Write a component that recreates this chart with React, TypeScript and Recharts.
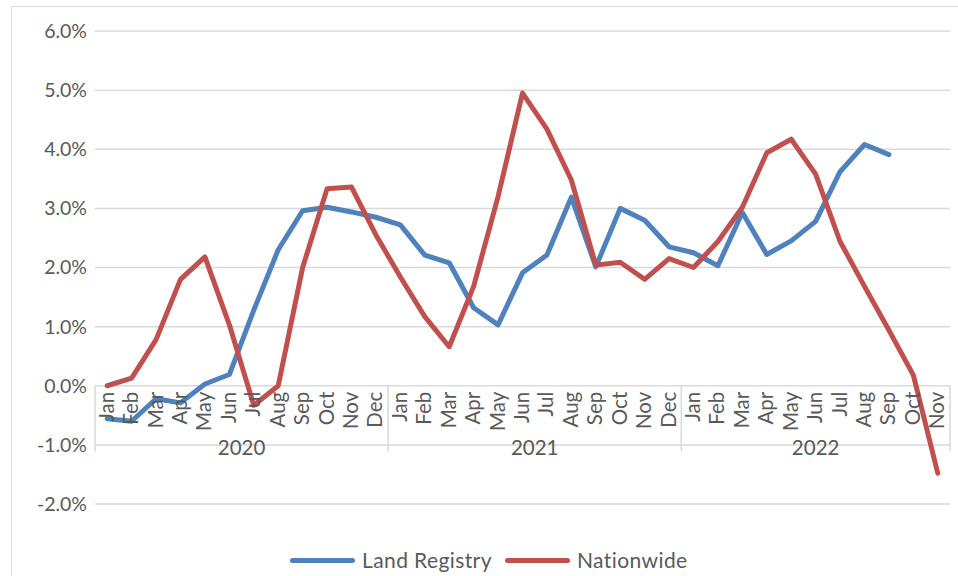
import {
	LineChart,
	Line,
	XAxis,
	YAxis,
	CartesianGrid,
	ReferenceDot,
	ReferenceLine,
} from "recharts";

const monthNames = ["Jan", "Feb", "Mar", "Apr", "May", "Jun", "Jul", "Aug", "Sep", "Oct", "Nov", "Dec"];
const years = ["2020", "2021", "2022"];
const monthsIn2022 = 11;

// annual % change, Jan 2020 onwards
const landRegistry = [
	-0.56, -0.6, -0.22, -0.29, 0.03, 0.19, 1.28, 2.3, 2.96, 3.02, 2.94, 2.85,
	2.72, 2.21, 2.08, 1.32, 1.03, 1.91, 2.21, 3.19, 2.01, 3.0, 2.8, 2.35,
	2.25, 2.03, 2.93, 2.22, 2.45, 2.78, 3.62, 4.08, 3.91,
];
const nationwide = [
	0.0, 0.13, 0.78, 1.8, 2.18, 1.03, -0.33, 0.0, 2.0, 3.33, 3.36, 2.55,
	1.84, 1.17, 0.66, 1.68, 3.2, 4.95, 4.34, 3.48, 2.04, 2.09, 1.8, 2.15,
	2.0, 2.44, 3.02, 3.94, 4.17, 3.58, 2.44, 1.68, 0.94, 0.18, -1.48,
];
const yTicks = [-2, -1, 0, 1, 2, 3, 4, 5, 6];

const BLUE = "#4F81BD";
const RED = "#C0504D";
const TEXT = "#595959";
const GRID = "#D9D9D9";
const FONT = "Lato, 'Open Sans', sans-serif";

const months = years.flatMap((y, yi) =>
	monthNames.slice(0, yi === years.length - 1 ? monthsIn2022 : 12).map((m) => ({ m, y })),
);

const data = months.map((c, i) => ({
	x: i + 0.5,
	month: c.m,
	lr: landRegistry[i] ?? null,
	nw: nationwide[i] ?? null,
}));

// year groups: start / end index along the month axis
const groups = years.map((y) => {
	const start = months.findIndex((c) => c.y === y);
	const count = months.filter((c) => c.y === y).length;
	return { year: y, start, end: start + count };
});
const boundaries = [0, ...groups.map((g) => g.end)];

const monthLabel = (text: string) => (props: any) => {
	const vb = props.viewBox || {};
	const cx = vb.x + (vb.width || 0) / 2;
	const cy = vb.y + (vb.height || 0) / 2;
	return (
		<text
			x={cx + 6.5}
			y={cy + 6}
			transform={`rotate(-90, ${cx + 6.5}, ${cy + 6})`}
			textAnchor="end"
			fill={TEXT}
			fontSize={20.5}
			fontFamily={FONT}
		>
			{text}
		</text>
	);
};

const yearLabel = (text: string) => (props: any) => {
	const vb = props.viewBox || {};
	const cx = vb.x + (vb.width || 0) / 2;
	const cy = vb.y + (vb.height || 0) / 2;
	return (
		<text x={cx} y={cy + 10.5} textAnchor="middle" fill={TEXT} fontSize={20.5} fontFamily={FONT}>
			{text}
		</text>
	);
};

function LegendItem({ left, color, label }: { left: number; color: string; label: string }) {
	return (
		<div
			style={{
				position: "absolute",
				top: 547,
				left,
				display: "flex",
				alignItems: "center",
				fontFamily: FONT,
				fontSize: 21,
				letterSpacing: 0.4,
				color: TEXT,
				lineHeight: "26px",
				whiteSpace: "nowrap",
			}}
		>
			<div style={{ width: 65, height: 5, borderRadius: 3, background: color, marginRight: 7 }} />
			<span>{label}</span>
		</div>
	);
}

export default function App() {
	return (
		<div
			style={{
				position: "fixed",
				left: 0,
				top: 0,
				width: 958,
				height: 576,
				overflow: "hidden",
				background: "#fff",
			}}
		>
			<div
				style={{
					position: "absolute",
					left: 11,
					top: 6,
					width: 1000,
					height: 620,
					border: `1.5px solid ${GRID}`,
				}}
			/>
			<LineChart
				width={958}
				height={576}
				data={data}
				margin={{ top: 31, right: 8, bottom: 72, left: 0 }}
				style={{ position: "absolute", left: 0, top: 0 }}
			>
				<CartesianGrid vertical={false} stroke={GRID} strokeWidth={1.5} />
				<XAxis dataKey="x" type="number" domain={[0, months.length]} hide />
				<YAxis
					domain={[-2, 6]}
					ticks={yTicks}
					width={95}
					axisLine={false}
					tickLine={false}
					tickFormatter={(v: number) => `${v.toFixed(1)}%`}
					tick={{ fill: TEXT, fontSize: 19.5, fontFamily: FONT }}
					interval={0}
				/>
				{boundaries.map((b) => (
					<ReferenceLine
						key={`b${b}`}
						segment={[
							{ x: b, y: 0 },
							{ x: b, y: -1.11 },
						]}
						stroke={GRID}
						strokeWidth={1.5}
					/>
				))}
				{data.map((d) => (
					<ReferenceDot
						key={`m${d.x}`}
						x={d.x}
						y={0}
						r={0}
						fill="none"
						stroke="none"
						label={monthLabel(d.month)}
					/>
				))}
				{groups.map((g) => (
					<ReferenceDot
						key={g.year}
						x={(g.start + g.end) / 2}
						y={-1}
						r={0}
						fill="none"
						stroke="none"
						label={yearLabel(g.year)}
					/>
				))}
				<Line
					dataKey="lr"
					name="Land Registry"
					stroke={BLUE}
					strokeWidth={5}
					strokeLinejoin="round"
					strokeLinecap="round"
					dot={false}
					isAnimationActive={false}
				/>
				<Line
					dataKey="nw"
					name="Nationwide"
					stroke={RED}
					strokeWidth={5}
					strokeLinejoin="round"
					strokeLinecap="round"
					dot={false}
					isAnimationActive={false}
				/>
			</LineChart>
			<LegendItem left={290} color={BLUE} label="Land Registry" />
			<LegendItem left={505} color={RED} label="Nationwide" />
		</div>
	);
}
